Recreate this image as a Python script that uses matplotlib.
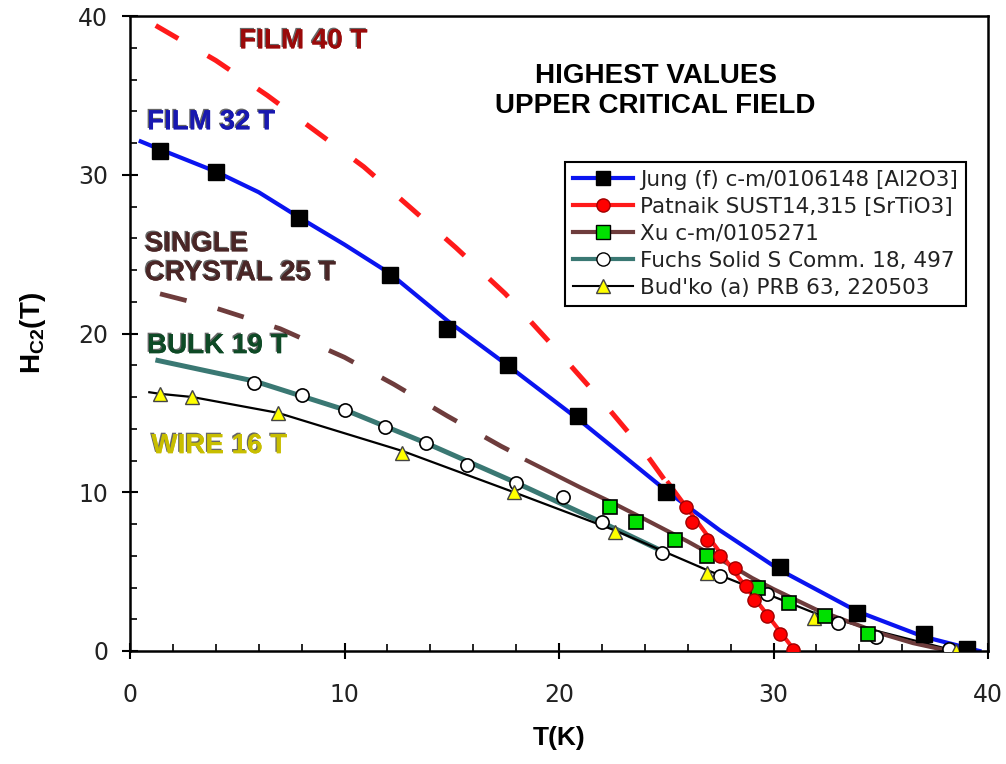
import matplotlib
matplotlib.use('Agg')
import matplotlib.pyplot as plt
import matplotlib.patheffects as pe
from matplotlib.lines import Line2D
from matplotlib.ticker import MultipleLocator

plt.rcParams['mathtext.fontset'] = 'custom'
plt.rcParams['mathtext.rm'] = 'Liberation Sans:bold'
plt.rcParams['mathtext.default'] = 'rm'

# --- measured points (T in K, Hc2 in T) ---
jung_T = [1.4, 4.0, 7.9, 12.1, 14.8, 17.6, 20.9, 25.0, 30.3, 33.9, 37.0, 39.0]
jung_H = [31.5, 30.2, 27.3, 23.7, 20.3, 18.0, 14.8, 10.0, 5.3, 2.4, 1.1, 0.1]

patnaik_T = [25.9, 26.2, 26.9, 27.5, 28.2, 28.7, 29.1, 29.7, 30.3, 30.9]
patnaik_H = [9.1, 8.1, 7.0, 6.0, 5.2, 4.1, 3.2, 2.2, 1.1, 0.05]

xu_T = [22.4, 23.6, 25.4, 26.9, 29.3, 30.7, 32.4, 34.4]
xu_H = [9.1, 8.1, 7.0, 6.0, 4.0, 3.0, 2.2, 1.1]

fuchs_T = [5.8, 8.0, 10.0, 11.9, 13.8, 15.7, 18.0, 20.2, 22.0, 24.8, 27.5, 29.7, 33.0, 34.8, 38.2]
fuchs_H = [16.9, 16.1, 15.2, 14.1, 13.1, 11.7, 10.6, 9.7, 8.1, 6.2, 4.7, 3.6, 1.75, 0.9, 0.1]

budko_T = [1.4, 2.9, 6.9, 12.7, 17.9, 22.6, 26.9, 31.9, 38.5]
budko_H = [16.2, 16.0, 15.0, 12.5, 10.0, 7.5, 4.9, 2.1, 0.0]

# --- fitted curves ---
jung_fit_T = [0.5, 1.4, 4.0, 6.0, 7.9, 10.0, 12.1, 14.8, 17.6, 20.9, 23.0, 25.0, 27.5, 30.3, 33.9, 37.0, 39.6]
jung_fit_H = [32.1, 31.6, 30.2, 28.9, 27.3, 25.6, 23.8, 20.8, 18.0, 14.6, 12.3, 10.1, 7.6, 5.1, 2.5, 0.9, 0.0]

film40_T = [1.2, 4.0, 6.4, 8.6, 10.9, 13.1, 15.2, 17.5, 20.0, 22.1, 23.9, 25.6]
film40_H = [39.4, 37.2, 35.0, 32.8, 30.5, 27.9, 25.4, 22.5, 18.8, 15.6, 12.7, 9.5]

patnaik_fit_T = [25.1, 28.0, 31.0]
patnaik_fit_H = [10.6, 5.3, 0.0]

crystal_T = [1.4, 4.0, 7.0, 10.0, 12.3, 14.8, 17.3, 18.6]
crystal_H = [22.5, 21.6, 20.3, 18.5, 16.8, 14.8, 12.9, 12.0]

xu_fit_T = [18.5, 21.0, 22.4, 24.0, 26.0, 28.0, 29.0, 30.0, 32.0, 34.0, 35.0, 36.5, 38.2]
xu_fit_H = [12.0, 10.3, 9.4, 8.3, 6.9, 5.4, 4.6, 3.9, 2.6, 1.6, 1.1, 0.5, 0.0]

fuchs_fit_T = [1.3, 5.8, 10.0, 13.8, 18.0, 22.0, 24.8]
fuchs_fit_H = [18.3, 17.0, 15.2, 13.1, 10.6, 8.1, 6.3]

budko_fit_T = [0.9, 1.4, 2.9, 6.9, 12.7, 17.9, 22.6, 26.9, 31.9, 35.0, 38.5]
budko_fit_H = [16.3, 16.2, 16.0, 15.0, 12.6, 10.0, 7.6, 5.1, 2.4, 1.2, 0.0]

labels = ['Jung (f) c-m/0106148 [Al2O3]', 'Patnaik SUST14,315 [SrTiO3]',
          'Xu c-m/0105271', 'Fuchs Solid S Comm. 18, 497', "Bud'ko (a) PRB 63, 220503"]

BLUE = '#0a14f0'
RED = '#ff1a1a'
BROWN = '#6e3c3c'
TEAL = '#3a7873'

fig = plt.figure(figsize=(10.06, 7.64), dpi=100)
ax = fig.add_axes([130 / 1006, 1 - 651 / 764, 858 / 1006, 635 / 764])

# curves (dash pattern is in units of line width)
ax.plot(film40_T, film40_H, color=RED, lw=3.6, dashes=(5.2, 6.8), zorder=2)
ax.plot(crystal_T, crystal_H, color=BROWN, lw=3.4, dashes=(5.8, 6.8), zorder=2)
ax.plot(fuchs_fit_T, fuchs_fit_H, color=TEAL, lw=3.6, zorder=2)
ax.plot(budko_fit_T, budko_fit_H, color='black', lw=1.6, zorder=2)
ax.plot(xu_fit_T, xu_fit_H, color=BROWN, lw=3.0, zorder=2)
ax.plot(jung_fit_T, jung_fit_H, color=BLUE, lw=3.0, zorder=2)
ax.plot(patnaik_fit_T, patnaik_fit_H, color=RED, lw=3.0, zorder=2)

# data points
ax.plot(fuchs_T, fuchs_H, 'o', ms=9.5, mfc='white', mec='black', mew=1.2, zorder=3)
ax.plot(budko_T, budko_H, '^', ms=10, mfc='#ffff00', mec='#444444', mew=1.0, zorder=3)
ax.plot(xu_T, xu_H, 's', ms=9.5, mfc='#00e000', mec='black', mew=1.2, zorder=4)
ax.plot(jung_T, jung_H, 's', ms=11.5, mfc='black', mec='black', zorder=4)
ax.plot(patnaik_T, patnaik_H, 'o', ms=9.5, mfc='#ff0000', mec='#a00000', mew=1.0, zorder=5)

# axes
ax.set_xlim(0, 40)
ax.set_ylim(0, 40)
ax.xaxis.set_major_locator(MultipleLocator(10))
ax.yaxis.set_major_locator(MultipleLocator(10))
ax.xaxis.set_minor_locator(MultipleLocator(2))
ax.yaxis.set_minor_locator(MultipleLocator(2))
ax.tick_params(which='major', direction='inout', length=11.5, width=1.5, labelsize=17,
               labelcolor='#222222')
ax.tick_params(which='minor', direction='in', length=5, width=1.2)
ax.tick_params(axis='x', which='major', pad=17)
ax.tick_params(axis='y', which='major', pad=10)
for sp in ax.spines.values():
    sp.set_linewidth(1.8)

ax.set_xlabel('T(K)', fontsize=19, fontweight='bold', family='Liberation Sans', labelpad=14)
ax.set_ylabel(r'H$_{\mathrm{C2}}$(T)', fontsize=20, fontweight='bold', family='Liberation Sans',
              labelpad=22)

# labels on the plot
shadow = [pe.withSimplePatchShadow(offset=(-1, 1), shadow_rgbFace='black', alpha=0.6), pe.Normal()]
tkw = dict(fontsize=20, fontweight='bold', family='Liberation Sans', va='center', ha='left')
ax.text(5.1, 38.4, 'FILM 40 T', color='#9a0a0a', path_effects=shadow, **tkw)
ax.text(0.8, 33.3, 'FILM 32 T', color='#1818b0', path_effects=shadow, **tkw)
ax.text(0.7, 24.7, 'SINGLE\nCRYSTAL 25 T', color='#4a2626', path_effects=shadow,
        linespacing=1.15, **tkw)
ax.text(0.8, 19.2, 'BULK 19 T', color='#0e4a26', path_effects=shadow, **tkw)
ax.text(1.0, 12.9, 'WIRE 16 T', color='#c8be00', path_effects=shadow, **tkw)
ax.text(24.5, 35.3, 'HIGHEST VALUES\nUPPER CRITICAL FIELD', color='black', fontsize=20,
        fontweight='bold', family='Liberation Sans', ha='center', va='center',
        multialignment='center', linespacing=1.2)

# legend
handles = [
    Line2D([], [], color=BLUE, lw=3, marker='s', ms=10, mfc='black', mec='black'),
    Line2D([], [], color=RED, lw=3, marker='o', ms=9.5, mfc='#ff0000', mec='#a00000'),
    Line2D([], [], color=BROWN, lw=3, marker='s', ms=9.5, mfc='#00e000', mec='black'),
    Line2D([], [], color=TEAL, lw=3, marker='o', ms=9.5, mfc='white', mec='black'),
    Line2D([], [], color='black', lw=1.5, marker='^', ms=10, mfc='#ffff00', mec='#444444'),
]
leg = ax.legend(handles, labels, loc='upper left', bbox_to_anchor=(0.507, 0.770),
                borderaxespad=0, fancybox=False, framealpha=1, edgecolor='black',
                prop={'family': 'DejaVu Sans', 'size': 15.5}, handlelength=2.8,
                handletextpad=0.35, labelspacing=0.33, borderpad=0.35, numpoints=1)
leg.get_frame().set_linewidth(1.5)
for t in leg.get_texts():
    t.set_color('#222222')

fig.savefig('out.png', dpi=100)
